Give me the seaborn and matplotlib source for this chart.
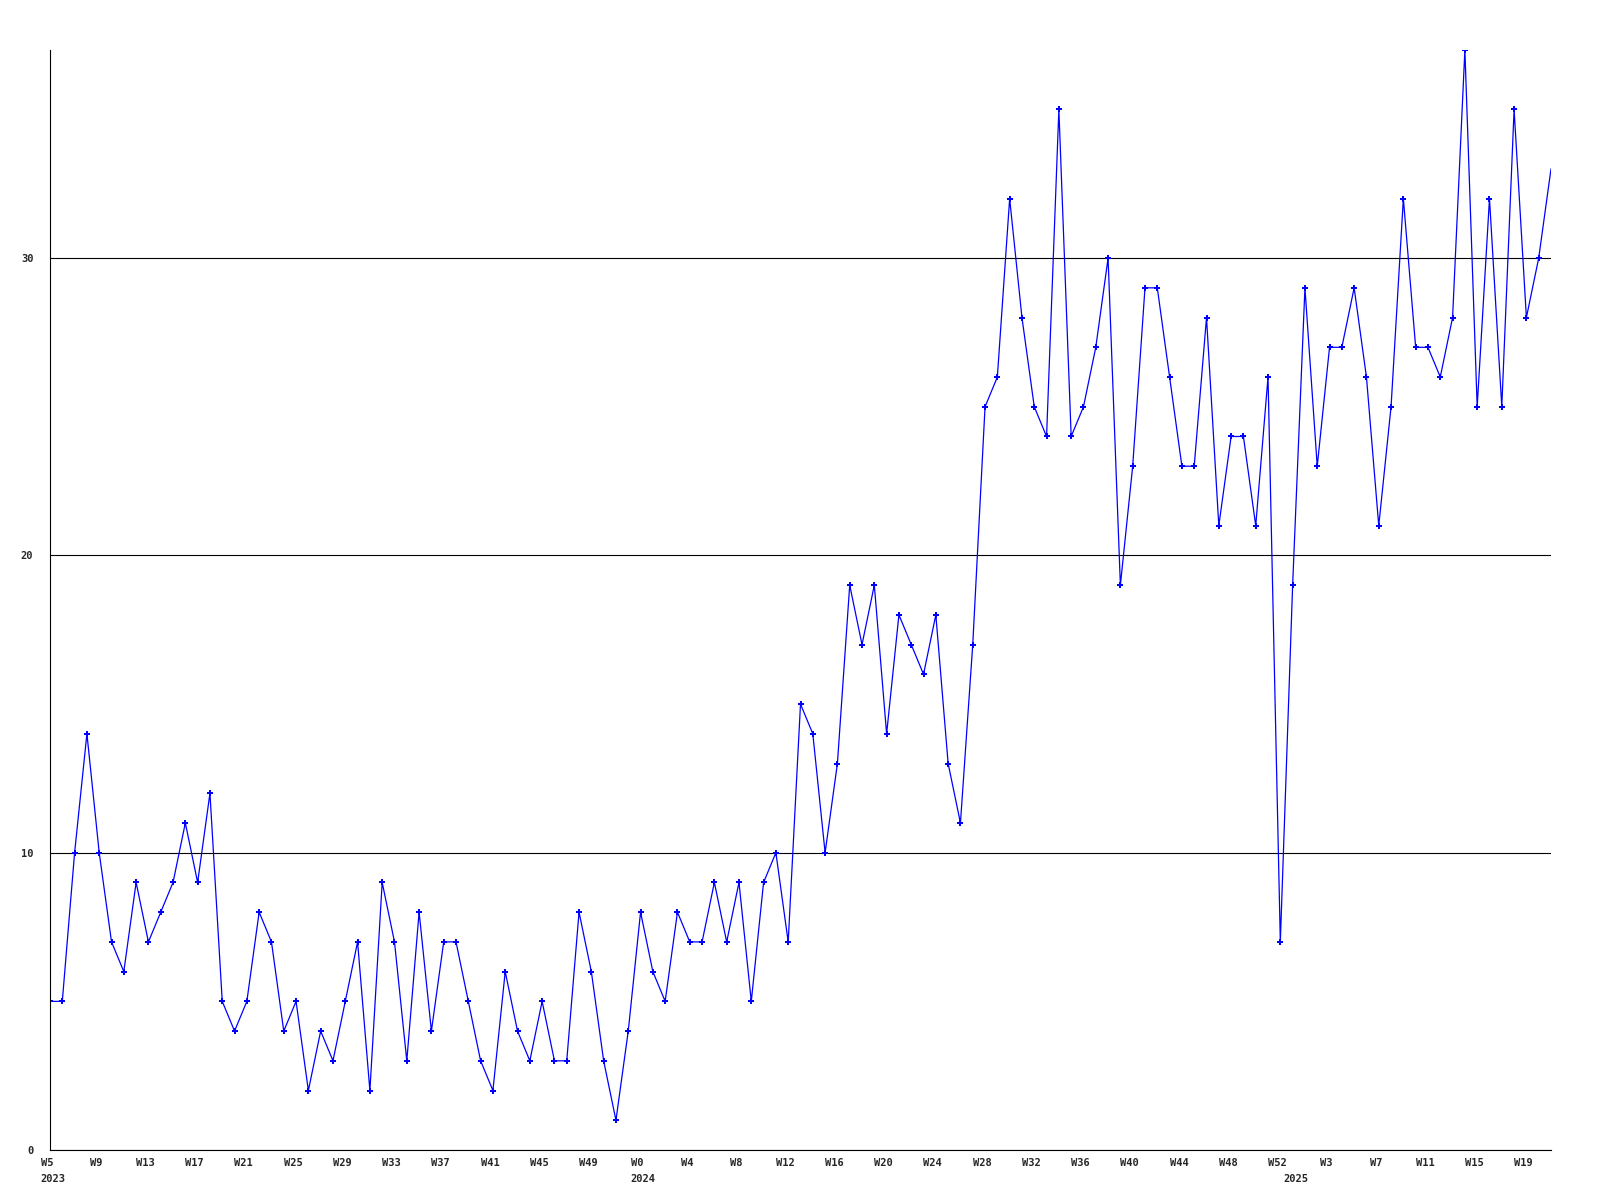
import pandas as pd
import matplotlib
matplotlib.use("Agg")
import matplotlib.pyplot as plt
import matplotlib.transforms as mtransforms
import seaborn as sns

# weekly counts, 2023 W5 .. 2025 W21
weeks_2023 = list(range(5, 53))
weeks_2024 = list(range(0, 53))
weeks_2025 = list(range(0, 22))

values = [5, 5, 10, 14, 10, 7, 6, 9, 7, 8, 9, 11, 9, 12, 5, 4, 5, 8, 7, 4,
          5, 2, 4, 3, 5, 7, 2, 9, 7, 3, 8, 4, 7, 7, 5, 3, 2, 6, 4, 3,
          5, 3, 3, 8, 6, 3, 1, 4, 8, 6, 5, 8, 7, 7, 9, 7, 9, 5, 9, 10,
          7, 15, 14, 10, 13, 19, 17, 19, 14, 18, 17, 16, 18, 13, 11, 17, 25, 26, 32, 28,
          25, 24, 35, 24, 25, 27, 30, 19, 23, 29, 29, 26, 23, 23, 28, 21, 24, 24, 21, 26,
          7, 19, 29, 23, 27, 27, 29, 26, 21, 25, 32, 27, 27, 26, 28, 37, 25, 32, 25, 35,
          28, 30, 33]

years = ["2023", "2024", "2025"]
y_ticks = [0, 10, 20, 30]

week_names = ["W%d" % w for w in weeks_2023 + weeks_2024 + weeks_2025]
year_of = ([years[0]] * len(weeks_2023) + [years[1]] * len(weeks_2024)
           + [years[2]] * len(weeks_2025))

data = pd.DataFrame({"pos": range(len(values)), "week": week_names,
                     "year": year_of, "count": values})

sns.set_style("white")
plt.rcParams["font.family"] = ["DejaVu Sans Mono"]
plt.rcParams["font.weight"] = "bold"

fig = plt.figure(figsize=(16, 12), dpi=100)
ax = fig.add_axes([50 / 1600, 50 / 1200, 1501 / 1600, 1100 / 1200])

sns.lineplot(data=data, x="pos", y="count", ax=ax, color="#0000ff",
             linewidth=0.9, marker="P", markersize=4, markeredgewidth=0,
             markevery=list(range(len(values) - 1)))

ax.set_xlim(0, len(values) - 1)
ax.set_ylim(0, max(values))

tick_pos = data["pos"][::4]
ax.set_xticks(tick_pos)
ax.set_xticklabels(data["week"][::4])
ax.set_yticks(y_ticks)
ax.set_yticklabels([str(v) for v in y_ticks])
ax.tick_params(axis="both", length=0, labelsize=7.5)
ax.tick_params(axis="y", pad=12)
ax.tick_params(axis="x", pad=6)

# nudge week labels a little to the left, like the original
shift = mtransforms.ScaledTranslation(-3 / 100, 0, fig.dpi_scale_trans)
for lbl in ax.get_xticklabels():
    lbl.set_transform(lbl.get_transform() + shift)

ax.yaxis.grid(True, color="black", linewidth=0.8)
ax.set_axisbelow(True)
for side in ["top", "right"]:
    ax.spines[side].set_visible(False)
for side in ["left", "bottom"]:
    ax.spines[side].set_color("black")
    ax.spines[side].set_linewidth(0.8)

# year markers under the first week of each year
first_rows = data.drop_duplicates("year")
for _, row in first_rows.iterrows():
    ax.annotate(row["year"], xy=(row["pos"], 0), xycoords=("data", "axes fraction"),
                xytext=(2, -21), textcoords="offset points",
                ha="center", va="center", fontsize=7.5, fontweight="bold")

ax.set_xlabel("")
ax.set_ylabel("")

fig.savefig("out.png", dpi=100)
